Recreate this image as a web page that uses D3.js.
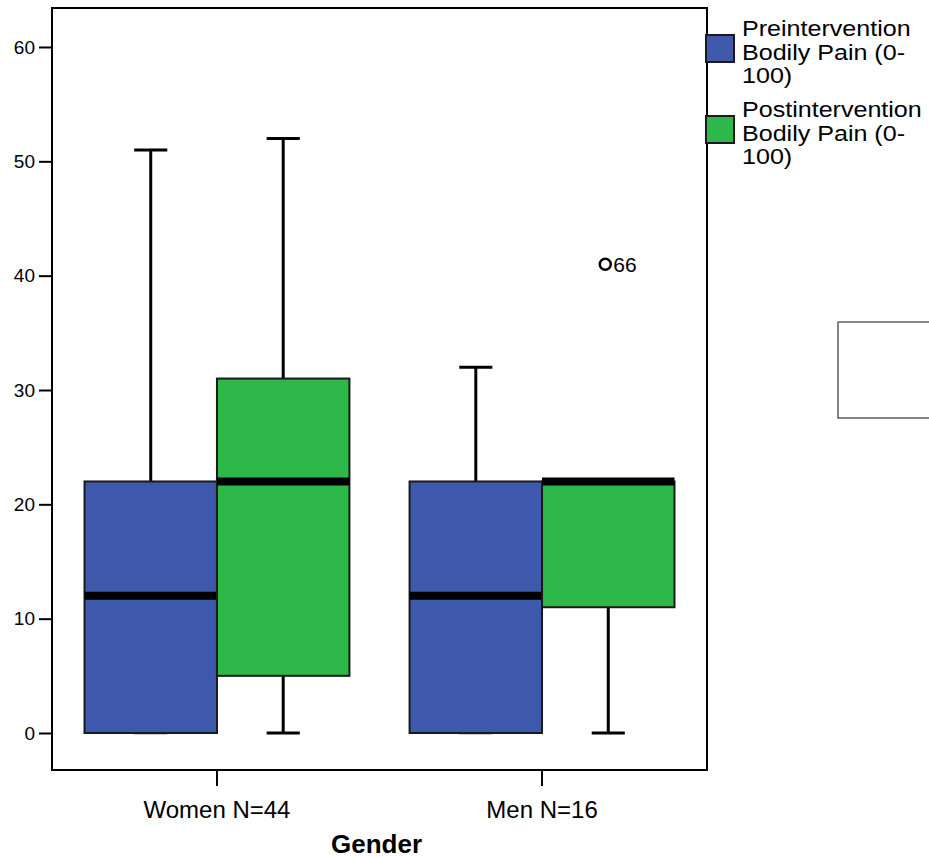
<!DOCTYPE html>
<html>
<head>
<meta charset="utf-8">
<script src="https://cdn.jsdelivr.net/npm/d3@7"></script>
<style>
  body { margin: 0; background: #fff; }
  svg { display: block; font-family: "Liberation Sans", Arial, sans-serif; }
</style>
</head>
<body>
<svg id="chart" width="929" height="858"></svg>
<script>
// ---- data ----
const groups = ["Women N=44", "Men N=16"];
const seriesKeys = ["pre", "post"];
const seriesLabels = [
  ["Preintervention", "Bodily Pain (0-", "100)"],
  ["Postintervention", "Bodily Pain (0-", "100)"]
];
const seriesColors = ["#3e58ab", "#2fb84a"];
// per series, one value per group
const whiskerLow  = { pre: [0, 0],   post: [0, 0] };
const q1          = { pre: [0, 0],   post: [5, 11] };
const median      = { pre: [12, 12], post: [22, 22] };
const q3          = { pre: [22, 22], post: [31, 22] };
const whiskerHigh = { pre: [51, 32], post: [52, 22] };
const outliers = [{ group: "Men N=16", series: "post", value: 41, label: "66" }];
const yTicks = [0, 10, 20, 30, 40, 50, 60];
const yDomain = [-3.236, 63.41];

// ---- layout ----
const svg = d3.select("#chart");
const plot = { left: 52, right: 707, top: 8, bottom: 770 };

const y = d3.scaleLinear().domain(yDomain).range([plot.bottom, plot.top]);
const x = d3.scaleBand().domain(groups).range([plot.left, plot.right])
  .paddingInner(0.185).paddingOuter(0.1);
const xs = d3.scaleBand().domain(seriesKeys).range([0, x.bandwidth()]).padding(0);
const color = d3.scaleOrdinal().domain(seriesKeys).range(seriesColors);

// frame
svg.append("rect")
  .attr("x", plot.left).attr("y", plot.top)
  .attr("width", plot.right - plot.left).attr("height", plot.bottom - plot.top)
  .attr("fill", "none").attr("stroke", "#000").attr("stroke-width", 2);

// y axis
const yAxis = svg.append("g")
  .attr("transform", `translate(${plot.left},0)`)
  .call(d3.axisLeft(y).tickValues(yTicks).tickSize(13).tickPadding(4).tickFormat(d3.format("d")));
yAxis.select(".domain").remove();
yAxis.selectAll(".tick line").attr("stroke", "#000").attr("stroke-width", 2);
yAxis.selectAll(".tick text").attr("font-size", 19).attr("fill", "#000")
  .attr("font-family", "Liberation Sans, Arial, sans-serif");

// x axis
const xAxis = svg.append("g")
  .attr("transform", `translate(0,${plot.bottom})`)
  .call(d3.axisBottom(x).tickSize(16).tickPadding(15));
xAxis.select(".domain").remove();
xAxis.selectAll(".tick line").attr("stroke", "#000").attr("stroke-width", 2);
xAxis.selectAll(".tick text").attr("font-size", 24).attr("fill", "#000")
  .attr("font-family", "Liberation Sans, Arial, sans-serif");

// axis title
svg.append("text")
  .attr("x", (plot.left + plot.right) / 2 - 3).attr("y", 853)
  .attr("text-anchor", "middle").attr("font-size", 26).attr("font-weight", "bold")
  .text("Gender");

// boxes
groups.forEach((g, gi) => {
  seriesKeys.forEach(s => {
    const x0 = x(g) + xs(s);
    const w = xs.bandwidth();
    const cx = x0 + w / 2;
    const capW = w / 4;
    const gEl = svg.append("g");
    // whiskers
    gEl.append("line").attr("x1", cx).attr("x2", cx)
      .attr("y1", y(q3[s][gi])).attr("y2", y(whiskerHigh[s][gi]))
      .attr("stroke", "#000").attr("stroke-width", 3);
    gEl.append("line").attr("x1", cx).attr("x2", cx)
      .attr("y1", y(q1[s][gi])).attr("y2", y(whiskerLow[s][gi]))
      .attr("stroke", "#000").attr("stroke-width", 3);
    gEl.append("line").attr("x1", cx - capW / 2).attr("x2", cx + capW / 2)
      .attr("y1", y(whiskerHigh[s][gi])).attr("y2", y(whiskerHigh[s][gi]))
      .attr("stroke", "#000").attr("stroke-width", 3);
    gEl.append("line").attr("x1", cx - capW / 2).attr("x2", cx + capW / 2)
      .attr("y1", y(whiskerLow[s][gi])).attr("y2", y(whiskerLow[s][gi]))
      .attr("stroke", whiskerLow[s][gi] === q1[s][gi] ? "#999" : "#000").attr("stroke-width", 3);
    // box
    gEl.append("rect")
      .attr("x", x0).attr("y", y(q3[s][gi]))
      .attr("width", w).attr("height", y(q1[s][gi]) - y(q3[s][gi]))
      .attr("fill", color(s)).attr("stroke", "#1a1a1a").attr("stroke-width", 2);
    // median
    gEl.append("line").attr("x1", x0).attr("x2", x0 + w)
      .attr("y1", y(median[s][gi])).attr("y2", y(median[s][gi]))
      .attr("stroke", "#000").attr("stroke-width", 8);
  });
});

// outliers
outliers.forEach(o => {
  const cx = x(o.group) + xs(o.series) + xs.bandwidth() / 2 - 3;
  const cy = y(o.value);
  svg.append("circle").attr("cx", cx).attr("cy", cy).attr("r", 5.5)
    .attr("fill", "none").attr("stroke", "#000").attr("stroke-width", 2.5);
  svg.append("text").attr("x", cx + 8).attr("y", cy + 7.5)
    .attr("font-size", 21).text(o.label);
});

// legend
const legend = svg.append("g").attr("transform", "translate(706,35)");
seriesKeys.forEach((s, i) => {
  const lg = legend.append("g").attr("transform", `translate(0,${i * 81})`);
  lg.append("rect").attr("x", 0).attr("y", 0).attr("width", 28).attr("height", 27)
    .attr("fill", color(s)).attr("stroke", "#1a1a1a").attr("stroke-width", 2);
  const t = lg.append("g").attr("transform", "translate(36,0) scale(1.14,1)");
  seriesLabels[i].forEach((line, li) => {
    t.append("text").attr("x", 0).attr("y", 1 + li * 23.7)
      .attr("font-size", 22).text(line);
  });
});

// stray empty box at right
svg.append("rect").attr("x", 838).attr("y", 322).attr("width", 100).attr("height", 96)
  .attr("fill", "#fff").attr("stroke", "#333").attr("stroke-width", 1.2);
svg.append("line").attr("x1", 838).attr("x2", 929).attr("y1", 322).attr("y2", 322)
  .attr("stroke", "#888").attr("stroke-width", 1.5);
</script>
</body>
</html>
